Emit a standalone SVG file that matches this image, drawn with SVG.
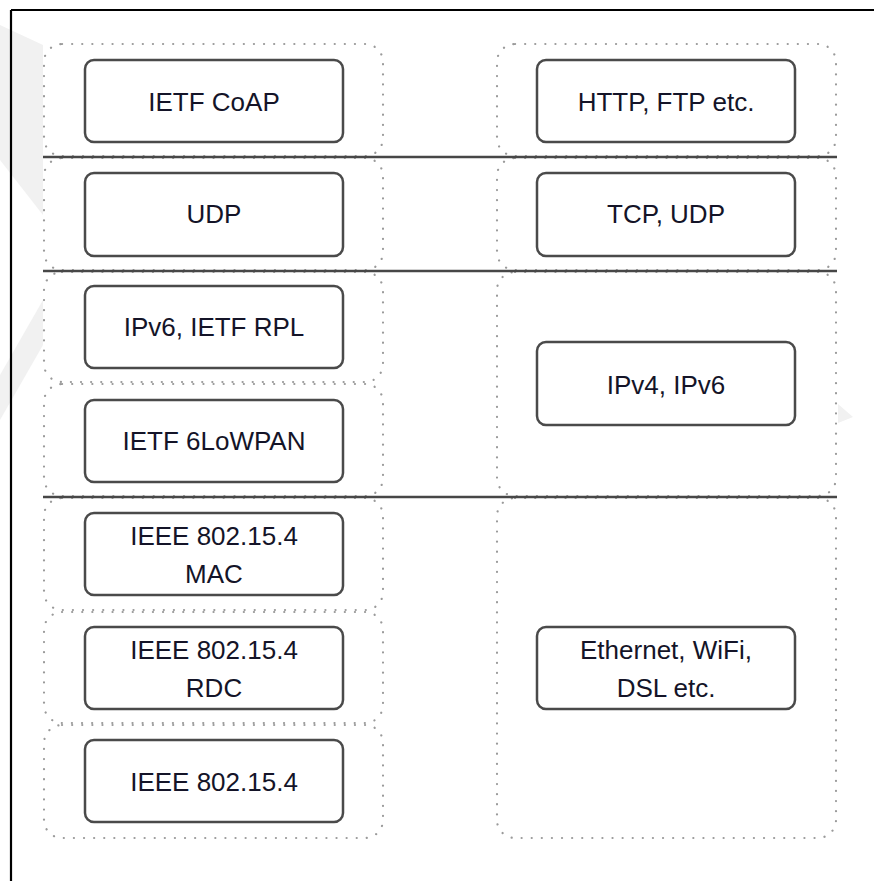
<svg xmlns="http://www.w3.org/2000/svg" width="874" height="881" viewBox="0 0 874 881">
<style>
.wm{fill:#f1f1f1}
.cell{fill:#fff;stroke:#9a9a9a;stroke-width:2.2;stroke-dasharray:0.1 10;stroke-linecap:round}
.card{fill:#fff;stroke:#4a4a4a;stroke-width:2.5}
.sep{stroke:#474747;stroke-width:2.6}
.t{font-family:"Liberation Sans",Arial,sans-serif;font-size:26px;fill:#141428;text-anchor:middle}
</style>
<rect x="0" y="0" width="874" height="881" fill="#fff"/>
<g id="watermark">
<polygon class="wm" points="0,25 43,45 43,215 0,160"/>
<polygon class="wm" points="43,300 43,345 0,420 0,375"/>
<polygon class="wm" points="838,404 853,417 838,423"/>
</g>
<g id="frame" stroke="#000" stroke-width="2.2" fill="none">
<line x1="11" y1="10" x2="874" y2="10"/>
<line x1="11" y1="10" x2="11" y2="881"/>
</g>
<g id="cells">
<rect class="cell" x="44" y="44" width="339" height="112" rx="18"/>
<rect class="cell" x="44" y="158" width="339" height="112" rx="18"/>
<rect class="cell" x="44" y="272" width="339" height="110" rx="18"/>
<rect class="cell" x="44" y="384" width="339" height="112" rx="18"/>
<rect class="cell" x="44" y="498" width="339" height="112" rx="18"/>
<rect class="cell" x="44" y="612" width="339" height="111" rx="18"/>
<rect class="cell" x="44" y="725" width="339" height="113" rx="18"/>
<rect class="cell" x="497" y="44" width="339" height="112" rx="18"/>
<rect class="cell" x="497" y="158" width="339" height="112" rx="18"/>
<rect class="cell" x="497" y="272" width="339" height="224" rx="18"/>
<rect class="cell" x="497" y="498" width="339" height="340" rx="18"/>
</g>
<g id="separators">
<line class="sep" x1="43" y1="157" x2="837" y2="157"/>
<line class="sep" x1="43" y1="271" x2="837" y2="271"/>
<line class="sep" x1="43" y1="497" x2="837" y2="497"/>
</g>
<g id="coap">
<rect class="card" x="85" y="60" width="258" height="82" rx="9"/>
<text class="t" x="214" y="111">IETF CoAP</text>
</g>
<g id="http">
<rect class="card" x="537" y="60" width="258" height="82" rx="9"/>
<text class="t" x="666" y="111">HTTP, FTP etc.</text>
</g>
<g id="udp">
<rect class="card" x="85" y="173" width="258" height="83" rx="9"/>
<text class="t" x="214" y="223">UDP</text>
</g>
<g id="tcpudp">
<rect class="card" x="537" y="173" width="258" height="83" rx="9"/>
<text class="t" x="666" y="223">TCP, UDP</text>
</g>
<g id="rpl">
<rect class="card" x="85" y="286" width="258" height="82" rx="9"/>
<text class="t" x="214" y="336">IPv6, IETF RPL</text>
</g>
<g id="sixlowpan">
<rect class="card" x="85" y="400" width="258" height="82" rx="9"/>
<text class="t" x="214" y="450">IETF 6LoWPAN</text>
</g>
<g id="ipv4ipv6">
<rect class="card" x="537" y="342" width="258" height="83" rx="9"/>
<text class="t" x="666" y="394">IPv4, IPv6</text>
</g>
<g id="mac">
<rect class="card" x="85" y="513" width="258" height="82" rx="9"/>
<text class="t" x="214" y="545">IEEE 802.15.4</text>
<text class="t" x="214" y="583">MAC</text>
</g>
<g id="rdc">
<rect class="card" x="85" y="627" width="258" height="82" rx="9"/>
<text class="t" x="214" y="659">IEEE 802.15.4</text>
<text class="t" x="214" y="697">RDC</text>
</g>
<g id="phy">
<rect class="card" x="85" y="740" width="258" height="82" rx="9"/>
<text class="t" x="214" y="791">IEEE 802.15.4</text>
</g>
<g id="ethernet">
<rect class="card" x="537" y="627" width="258" height="82" rx="9"/>
<text class="t" x="666" y="659">Ethernet, WiFi,</text>
<text class="t" x="666" y="697">DSL etc.</text>
</g>
</svg>
